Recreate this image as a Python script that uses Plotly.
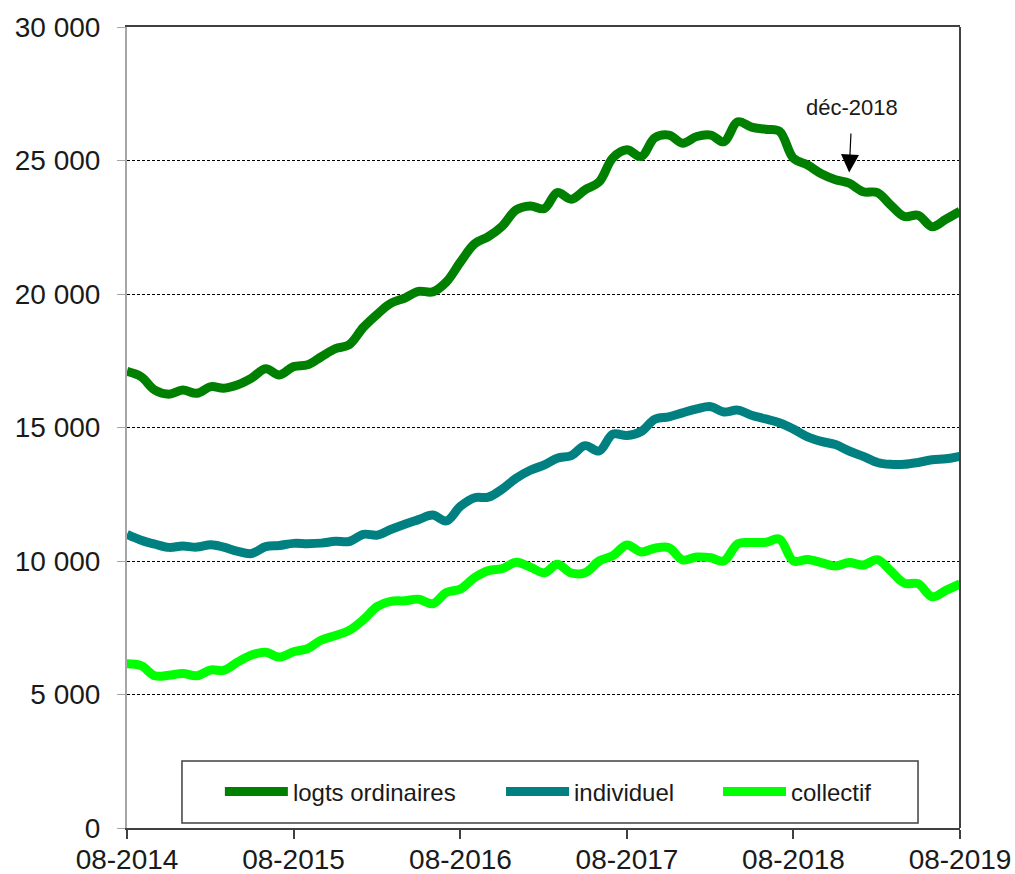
import pandas as pd
import plotly.graph_objects as go

months = pd.date_range("2014-08-01", "2019-08-01", freq="MS").strftime("%Y-%m-%d").tolist()

logts_ordinaires = [17100, 16900, 16400, 16250, 16400, 16280, 16530, 16470, 16600, 16850,
                    17200, 16970, 17280, 17350, 17650, 17950, 18100, 18750, 19250, 19650,
                    19850, 20100, 20080, 20450, 21200, 21880, 22150, 22550, 23150, 23300,
                    23200, 23800, 23550, 23900, 24200, 25100, 25400, 25150, 25850, 25950,
                    25650, 25900, 25950, 25700, 26450, 26250, 26170, 26100, 25080, 24830,
                    24500, 24280, 24150, 23830, 23800, 23350, 22900, 22950, 22520, 22800,
                    23100]
individuel = [11000, 10780, 10630, 10510, 10560, 10520, 10610, 10520, 10360, 10280,
              10540, 10580, 10660, 10650, 10670, 10740, 10730, 11000, 10970, 11180,
              11380, 11550, 11720, 11500, 12050, 12370, 12390, 12700, 13100, 13400,
              13600, 13850, 13950, 14320, 14120, 14750, 14700, 14850, 15310, 15400,
              15550, 15700, 15780, 15580, 15650, 15460, 15320, 15180, 14940, 14650,
              14480, 14360, 14120, 13920, 13690, 13620, 13620, 13690, 13790, 13830,
              13920]
collectif = [6150, 6080, 5700, 5720, 5790, 5700, 5920, 5900, 6220, 6480,
             6580, 6400, 6600, 6720, 7040, 7210, 7400, 7800, 8300, 8490,
             8510, 8570, 8400, 8820, 8950, 9380, 9640, 9720, 9950, 9770,
             9560, 9880, 9550, 9560, 10000, 10200, 10600, 10340, 10480, 10500,
             10040, 10150, 10120, 10000, 10650, 10690, 10700, 10820, 10000, 10060,
             9940, 9810, 9940, 9850, 10050, 9650, 9170, 9150, 8660, 8900,
             9140]

series_names = ["logts ordinaires", "individuel", "collectif"]
series_colors = ["#008000", "#008080", "#00FF00"]
series_values = [logts_ordinaires, individuel, collectif]
legend_ids = ["legend", "legend2", "legend3"]
legend_x = [0.1115, 0.449, 0.7095]

annot_date = "2018-12-01"
annot_text = "déc-2018"
annot_y = 24550

FONT = "Liberation Sans, Arial, sans-serif"

fig = go.Figure()
for name, color, vals, lg in zip(series_names, series_colors, series_values, legend_ids):
    fig.add_trace(go.Scatter(
        x=months, y=vals, name=name, mode="lines", legend=lg,
        line=dict(color=color, width=9, shape="spline", smoothing=1.0),
    ))

legend_common = dict(
    orientation="h", y=0.045, yanchor="middle", xanchor="left",
    font=dict(family=FONT, size=24, color="#1a1a1a"), bgcolor="rgba(0,0,0,0)",
    itemwidth=63, borderwidth=0,
)

fig.update_layout(
    width=1015, height=874,
    margin=dict(l=127, r=55, t=27, b=46, autoexpand=False),
    paper_bgcolor="white", plot_bgcolor="white",
    separators=", ",
    font=dict(family=FONT, size=28, color="#1a1a1a"),
    showlegend=True,
    legend=dict(x=legend_x[0], **legend_common),
    legend2=dict(x=legend_x[1], **legend_common),
    legend3=dict(x=legend_x[2], **legend_common),
    xaxis=dict(
        type="date", automargin=False,
        range=["2014-08-01", "2019-08-01"],
        tick0="2014-08-01", dtick="M12", tickformat="%m-%Y",
        showgrid=False, zeroline=False,
        showline=True, linecolor="#404040", linewidth=2, mirror=True,
        ticks="outside", ticklen=9, tickcolor="#404040", tickwidth=1.5,
        tickfont=dict(size=28, color="#1a1a1a"),
        ticklabelstandoff=-4,
    ),
    yaxis=dict(
        automargin=False,
        range=[0, 30000], dtick=5000, tickformat=",d",
        showgrid=True, gridcolor="#000000", gridwidth=1, griddash="3px,2px",
        zeroline=False,
        showline=True, linecolor="#a6a6a6", linewidth=2,
        ticks="outside", ticklen=8, tickcolor="#a6a6a6",
        tickfont=dict(size=28, color="#1a1a1a"),
        ticklabelstandoff=11,
    ),
    shapes=[
        dict(type="line", xref="paper", yref="paper", x0=1, x1=1, y0=0, y1=1,
             line=dict(color="#404040", width=2)),
        dict(type="rect", xref="paper", yref="paper",
             x0=0.066, x1=0.9496, y0=0.0062, y1=0.0836,
             line=dict(color="#404040", width=1.5), fillcolor="white", layer="below"),
    ],
    annotations=[
        dict(x=annot_date, y=annot_y, xref="x", yref="y", text=annot_text,
             showarrow=True, arrowhead=2, arrowsize=3, arrowwidth=1.2,
             arrowcolor="#000000", ax=3, ay=-65, startstandoff=12,
             font=dict(family=FONT, size=22, color="#1a1a1a")),
    ],
)

# remove the browser's default 8px body margin so the figure fills the window exactly
fig.write_html("out.html",
               config={"displayModeBar": False},
               post_script="document.body.style.margin='0';document.body.style.overflow='hidden';")
